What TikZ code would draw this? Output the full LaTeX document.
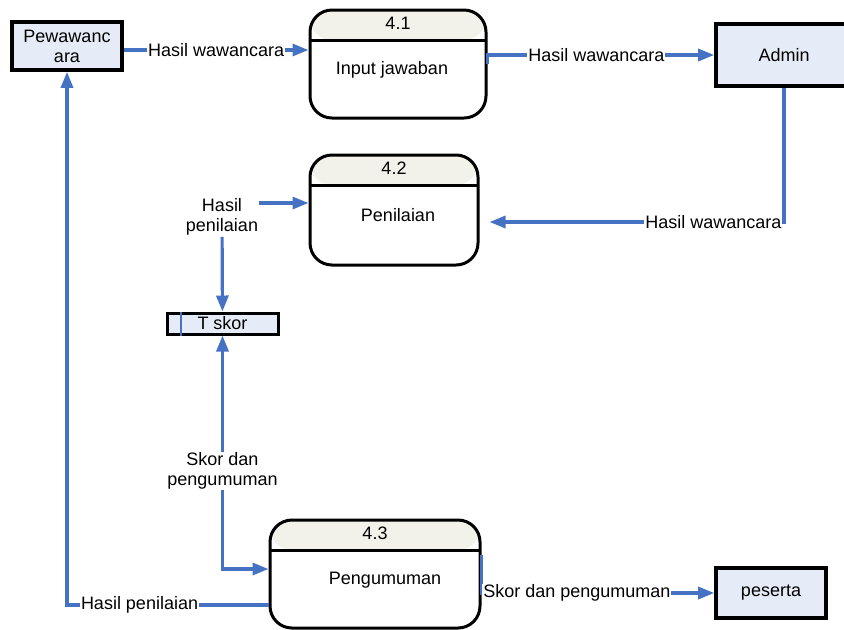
\documentclass[tikz,border=0pt]{standalone}
\usepackage{fontspec}
\setmainfont{Liberation Sans}
\usepackage{tikz}
\usetikzlibrary{arrows.meta}
\definecolor{flowblue}{RGB}{70,114,196}
\definecolor{entfill}{RGB}{230,236,247}
\definecolor{hdrfill}{RGB}{242,242,234}

\begin{document}
\begin{tikzpicture}[x=0.5pt, y=-0.5pt, font=\fontsize{9}{10}\selectfont,
		entity/.style={rectangle, draw=black, line width=1.8pt, fill=entfill, align=center, inner sep=1pt},
		proc/.style={rectangle, rounded corners=11pt, draw=black, line width=1.5pt, fill=white, path picture={
				\fill[hdrfill] (path picture bounding box.north west) rectangle ([yshift=-15pt]path picture bounding box.north east);
				\draw[line width=1.5pt] ([yshift=-15pt]path picture bounding box.north west) -- ([yshift=-15pt]path picture bounding box.north east);}},
		flow/.style={draw=flowblue, line width=1.6pt, -{Triangle[length=8pt,width=6pt]}},
		lbl/.style={fill=white, inner sep=0.5pt, align=center}]
				% picture size
				\useasboundingbox (0,0) rectangle (844,629);
				\node (pew) [entity, minimum width=55pt, minimum height=24pt] at (67,46) {Pewawanc\\ara};
				\node (admin) [entity, minimum width=68pt, minimum height=31pt] at (784,55) {Admin};
				\node (peserta) [entity, minimum width=55pt, minimum height=25pt] at (771,593) {peserta};
				\node (tskor) [entity, minimum width=55.5pt, minimum height=10.5pt, line width=1.5pt] at (222.5,323.5) {T skor};
				\draw [flowblue, line width=1pt] ([xshift=7.5pt]tskor.north west) -- ([xshift=7.5pt]tskor.south west);
				\node (p1) [proc, minimum width=88pt, minimum height=54pt] at (398,64) {};
				\node (p1id) at ([yshift=-7.5pt]p1.north) {4.1};
				\node (p1txt) at ([xshift=-3pt, yshift=-3pt]p1.center) {Input jawaban};
				\node (p2) [proc, minimum width=84pt, minimum height=55pt] at (394,210) {};
				\node (p2id) at ([yshift=-7.5pt]p2.north) {4.2};
				\node (p2txt) at ([xshift=2pt, yshift=-2.5pt]p2.center) {Penilaian};
				\node (p3) [proc, minimum width=105pt, minimum height=54pt] at (375,574) {};
				\node (p3id) at ([yshift=-7.5pt]p3.north) {4.3};
				\node (p3txt) at ([xshift=5pt, yshift=-3pt]p3.center) {Pengumuman};
				\node (hp) [lbl] at (222,217) {Hasil\\penilaian};
				% flows
				\draw [flow] ([yshift=-2pt]pew.east) -- ([yshift=-2pt]pew.east -| p1.west) node [lbl, midway] {Hasil wawancara};
				\draw [flow] (p1.east) |- (admin.west) node [lbl, pos=0.74] {Hasil wawancara};
				\draw [flow] (admin.south) |- ([xshift=5pt, yshift=-6pt]p2.east) node [lbl, pos=0.62] {Hasil wawancara};
				\draw [flow] ([yshift=7pt]hp.east) -- ([yshift=7pt]hp.east -| p2.west);
				\draw [flow] (hp) -- (tskor);
				\draw [flow, {Triangle[length=8pt,width=6pt]}-{Triangle[length=8pt,width=6pt]}] (tskor.south) |- ([yshift=2.5pt]p3.west) node [lbl, pos=0.29] {Skor dan\\pengumuman};
				\draw [flow] ([yshift=-15.5pt]p3.west) -| (pew.south) node [lbl, pos=0.32] {Hasil penilaian};
				\draw [flow] ([yshift=9.5pt]p3.east) |- (peserta.west) node [lbl, pos=0.705] {Skor dan pengumuman};
			\end{tikzpicture}
\end{document}
